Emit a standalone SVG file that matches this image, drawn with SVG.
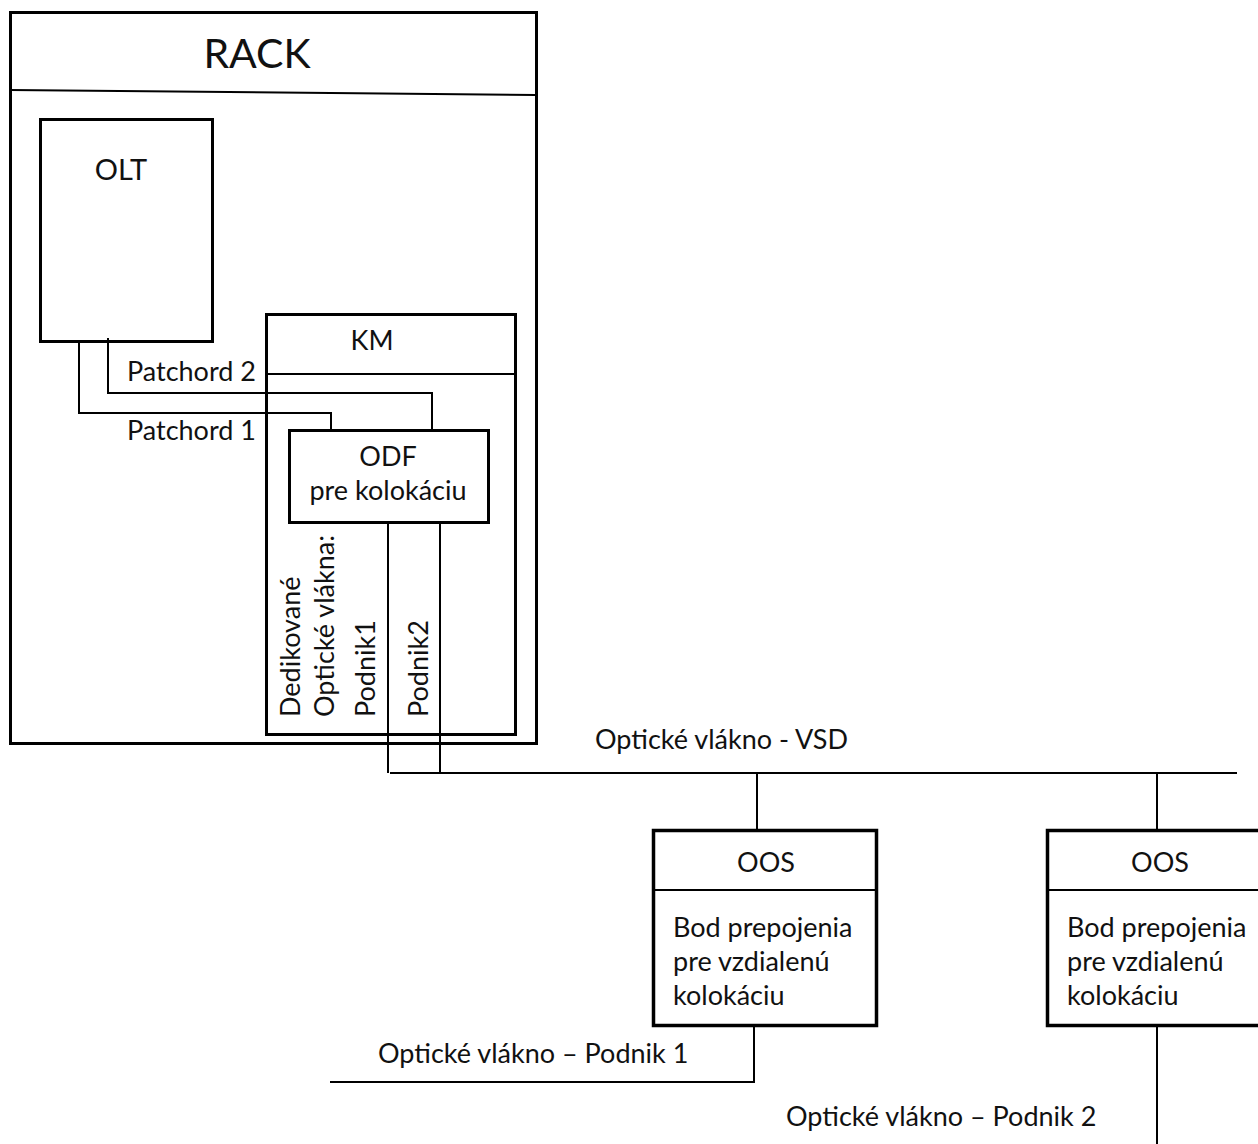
<svg xmlns="http://www.w3.org/2000/svg" width="1258" height="1144" viewBox="0 0 1258 1144">
<style>
text{font-family:Lato,"Open Sans",sans-serif;fill:#111;font-size:27px}
.box{fill:none;stroke:#000;stroke-width:3}
.thin{fill:none;stroke:#000;stroke-width:2}
.c{text-anchor:middle}
</style>
<rect width="1258" height="1144" fill="#fff"/>
<g id="rack">
<rect class="box" x="10.5" y="12.5" width="526" height="731"/>
<line class="thin" x1="10" y1="90" x2="536" y2="95"/>
<text class="c" x="257" y="68" style="font-size:41px">RACK</text>
</g>
<g id="olt">
<rect class="box" x="40.5" y="119.5" width="172" height="222"/>
<text class="c" x="121" y="180" style="font-size:29px">OLT</text>
</g>
<g id="km">
<rect class="box" x="266.5" y="314.5" width="249" height="420"/>
<line class="thin" x1="266" y1="374" x2="515" y2="374"/>
<text class="c" x="372" y="350">KM</text>
</g>
<g id="odf">
<rect class="box" x="289.5" y="430.5" width="199" height="92"/>
<text class="c" x="388" y="466">ODF</text>
<text class="c" x="388" y="500">pre kolokáciu</text>
</g>
<g id="oos1">
<rect class="box" x="653.5" y="830.5" width="223" height="195" style="stroke-width:3.5"/>
<line class="thin" x1="653" y1="890" x2="876" y2="890"/>
<text class="c" x="766" y="872">OOS</text>
<text x="673" y="937">Bod prepojenia</text>
<text x="673" y="971">pre vzdialenú</text>
<text x="673" y="1005">kolokáciu</text>
</g>
<g id="oos2">
<rect class="box" x="1047.5" y="830.5" width="230" height="195" style="stroke-width:3.5"/>
<line class="thin" x1="1047" y1="890" x2="1260" y2="890"/>
<text class="c" x="1160" y="872">OOS</text>
<text x="1067" y="937">Bod prepojenia</text>
<text x="1067" y="971">pre vzdialenú</text>
<text x="1067" y="1005">kolokáciu</text>
</g>
<g id="connectors">
<path class="thin" d="M79 341V413H331V430"/>
<path class="thin" d="M108 338V393H432V430"/>
<path class="thin" d="M388 522V773"/>
<path class="thin" d="M440 522V773"/>
<path class="thin" d="M390 773H1237"/>
<path class="thin" d="M757 773V830"/>
<path class="thin" d="M1157 773V830"/>
<path class="thin" d="M754 1025V1082H330"/>
<path class="thin" d="M1157 1025V1144"/>
</g>
<g id="labels">
<text x="127" y="381">Patchord 2</text>
<text x="127" y="440">Patchord 1</text>
<text transform="translate(300 717) rotate(-90)">Dedikované</text>
<text transform="translate(334 717) rotate(-90)">Optické vlákna:</text>
<text transform="translate(375 717) rotate(-90)">Podnik1</text>
<text transform="translate(428 717) rotate(-90)">Podnik2</text>
<text x="595" y="749">Optické vlákno - VSD</text>
<text x="378" y="1063">Optické vlákno – Podnik 1</text>
<text x="786" y="1126">Optické vlákno – Podnik 2</text>
</g>
</svg>
